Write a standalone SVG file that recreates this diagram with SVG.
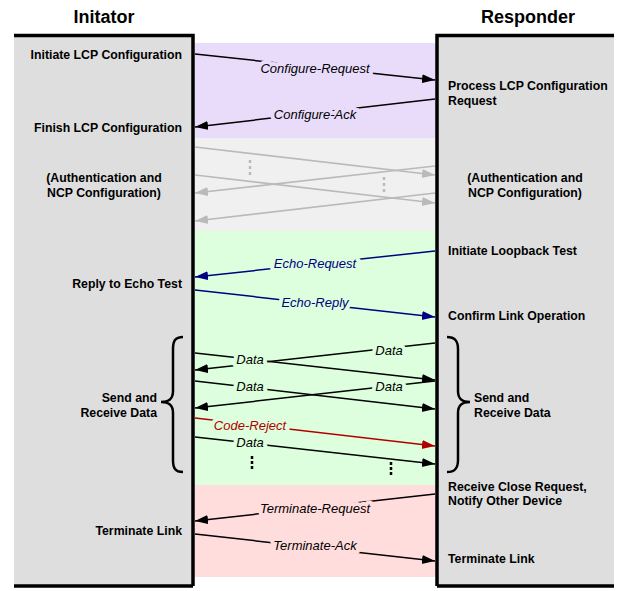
<svg xmlns="http://www.w3.org/2000/svg" width="624" height="591" viewBox="0 0 624 591">
<style>
.title{font-family:"Liberation Sans",Arial,sans-serif;font-weight:bold;font-size:18px;fill:#000;text-anchor:middle}
.t{font-family:"Liberation Sans",Arial,sans-serif;font-weight:bold;font-size:12.3px;fill:#000}
.r{text-anchor:end}
.m{text-anchor:middle}
.lbl{font-family:"Liberation Sans",Arial,sans-serif;font-style:italic;font-size:13px;text-anchor:middle;paint-order:stroke;stroke-width:8px;stroke-linejoin:round}
.col{fill:#dedede}
.bar{stroke:#000;stroke-width:3.5;fill:none}
.k{stroke:#000;stroke-width:1.5;fill:none}
.g{stroke:#bababa;stroke-width:1.6;fill:none}
.n{stroke:#000080;stroke-width:1.5;fill:none}
.rd{stroke:#b00000;stroke-width:1.5;fill:none}
.brace{stroke:#000;stroke-width:2.5;fill:none}
</style>
<defs>
<marker id="ak" markerUnits="userSpaceOnUse" markerWidth="14" markerHeight="10" refX="13" refY="4.5" orient="auto"><path d="M0,0 L13,4.5 L0,9 z" fill="#000"/></marker>
<marker id="ag" markerUnits="userSpaceOnUse" markerWidth="14" markerHeight="10" refX="13" refY="4.5" orient="auto"><path d="M0,0 L13,4.5 L0,9 z" fill="#bababa"/></marker>
<marker id="an" markerUnits="userSpaceOnUse" markerWidth="14" markerHeight="10" refX="13" refY="4.5" orient="auto"><path d="M0,0 L13,4.5 L0,9 z" fill="#000080"/></marker>
<marker id="ar" markerUnits="userSpaceOnUse" markerWidth="14" markerHeight="10" refX="13" refY="4.5" orient="auto"><path d="M0,0 L13,4.5 L0,9 z" fill="#b00000"/></marker>
</defs>
<rect width="624" height="591" fill="#fff"/>
<g id="bands">
<rect x="195" y="43" width="241" height="95" fill="#e9dcfb"/>
<rect x="195" y="138" width="241" height="93" fill="#f0f0f0"/>
<rect x="195" y="231" width="241" height="254" fill="#ddffdd"/>
<rect x="195" y="485" width="241" height="92" fill="#ffdddd"/>
</g>
<g id="initiator">
<text class="title" x="104" y="23">Initator</text>
<rect class="col" x="14" y="34" width="179" height="552"/>
<path class="bar" d="M14,35.5 H193 V586 M14,586 H193"/>
</g>
<g id="responder">
<text class="title" x="528" y="23">Responder</text>
<rect class="col" x="437" y="34" width="177" height="552"/>
<path class="bar" d="M614,35.5 H437 V586 M437,586 H614"/>
</g>
<g id="connectors">
<line class="k" x1="195" y1="54" x2="435" y2="80" marker-end="url(#ak)"/>
<line class="k" x1="435" y1="99" x2="195" y2="127" marker-end="url(#ak)"/>
<line class="g" x1="195" y1="147" x2="435" y2="175" marker-end="url(#ag)"/>
<line class="g" x1="195" y1="175" x2="435" y2="203" marker-end="url(#ag)"/>
<line class="g" x1="435" y1="166" x2="195" y2="193" marker-end="url(#ag)"/>
<line class="g" x1="435" y1="193" x2="195" y2="221" marker-end="url(#ag)"/>
<line stroke="#bababa" stroke-width="2.5" stroke-dasharray="3,3" x1="250" y1="160" x2="250" y2="175"/>
<line stroke="#bababa" stroke-width="2.5" stroke-dasharray="3,3" x1="384" y1="177" x2="384" y2="192"/>
<line class="n" x1="435" y1="251" x2="195" y2="277" marker-end="url(#an)"/>
<line class="n" x1="195" y1="290" x2="435" y2="317" marker-end="url(#an)"/>
<line class="k" x1="195" y1="353" x2="435" y2="380" marker-end="url(#ak)"/>
<line class="k" x1="435" y1="343" x2="195" y2="370" marker-end="url(#ak)"/>
<line class="k" x1="195" y1="381" x2="435" y2="409" marker-end="url(#ak)"/>
<line class="k" x1="435" y1="381" x2="195" y2="408" marker-end="url(#ak)"/>
<line class="rd" x1="195" y1="418" x2="435" y2="446" marker-end="url(#ar)"/>
<line class="k" x1="195" y1="437" x2="435" y2="464" marker-end="url(#ak)"/>
<line stroke="#000" stroke-width="2.5" stroke-dasharray="3,2" x1="252" y1="456" x2="252" y2="470"/>
<line stroke="#000" stroke-width="2.5" stroke-dasharray="3,2" x1="391" y1="462" x2="391" y2="476"/>
<line class="k" x1="435" y1="494" x2="195" y2="521" marker-end="url(#ak)"/>
<line class="k" x1="195" y1="534" x2="435" y2="561" marker-end="url(#ak)"/>
<text class="lbl" x="315" y="73" fill="#000" stroke="#e9dcfb">Configure-Request</text>
<text class="lbl" x="315" y="119" fill="#000" stroke="#e9dcfb">Configure-Ack</text>
<text class="lbl" x="315" y="268" fill="#000080" stroke="#ddffdd">Echo-Request</text>
<text class="lbl" x="315" y="307" fill="#000080" stroke="#ddffdd">Echo-Reply</text>
<text class="lbl" x="250" y="364" fill="#000" stroke="#ddffdd">Data</text>
<text class="lbl" x="389" y="355" fill="#000" stroke="#ddffdd">Data</text>
<text class="lbl" x="250" y="391" fill="#000" stroke="#ddffdd">Data</text>
<text class="lbl" x="389" y="391" fill="#000" stroke="#ddffdd">Data</text>
<text class="lbl" x="250" y="430" fill="#b00000" stroke="#ddffdd">Code-Reject</text>
<text class="lbl" x="250" y="447" fill="#000" stroke="#ddffdd">Data</text>
<text class="lbl" x="315" y="513" fill="#000" stroke="#ffdddd">Terminate-Request</text>
<text class="lbl" x="315" y="550" fill="#000" stroke="#ffdddd">Terminate-Ack</text>
</g>
<g id="left-steps">
<text class="t r" x="182" y="59">Initiate LCP Configuration</text>
<text class="t r" x="182" y="132">Finish LCP Configuration</text>
<text class="t m" x="104" y="182">(Authentication and</text>
<text class="t m" x="104" y="197">NCP Configuration)</text>
<text class="t r" x="182" y="288">Reply to Echo Test</text>
<text class="t r" x="157" y="402">Send and</text>
<text class="t r" x="157" y="417">Receive Data</text>
<text class="t r" x="182" y="535">Terminate Link</text>
<path class="brace" d="M183,337 C175,337 173,341 173,349 L173,391 C173,399 169,402 161,402 C169,402 173,405 173,413 L173,460 C173,468 175,472 183,472"/>
</g>
<g id="right-steps">
<text class="t" x="448" y="90">Process LCP Configuration</text>
<text class="t" x="448" y="105">Request</text>
<text class="t m" x="525" y="182">(Authentication and</text>
<text class="t m" x="525" y="197">NCP Configuration)</text>
<text class="t" x="448" y="255">Initiate Loopback Test</text>
<text class="t" x="448" y="320">Confirm Link Operation</text>
<text class="t" x="474" y="402">Send and</text>
<text class="t" x="474" y="417">Receive Data</text>
<text class="t" x="448" y="491">Receive Close Request,</text>
<text class="t" x="448" y="505">Notify Other Device</text>
<text class="t" x="448" y="563">Terminate Link</text>
<path class="brace" d="M447,337 C455,337 458,341 458,349 L458,391 C458,399 462,402 470,402 C462,402 458,405 458,413 L458,460 C458,468 455,472 447,472"/>
</g>
</svg>
